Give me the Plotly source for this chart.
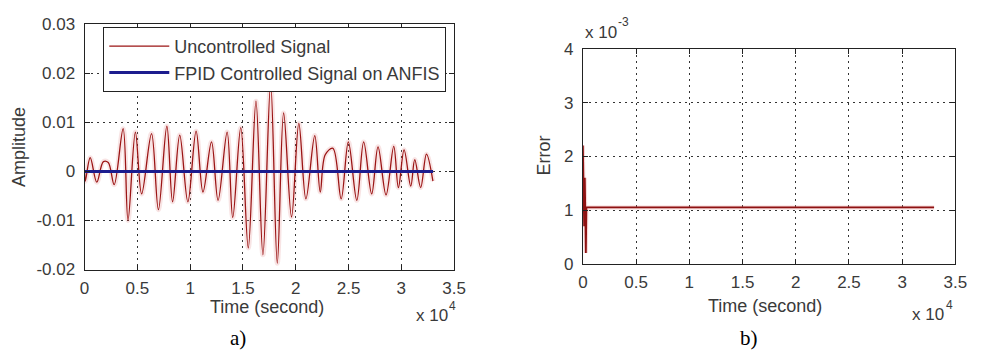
import plotly.graph_objects as go

# ---- data (time in seconds) ----
# extrema of the uncontrolled signal read off panel a)
unc_t = [0, 60, 530, 1150, 1780, 2240, 2800, 3650, 4110, 4810, 5400, 6340, 6990, 7790, 8330, 9010, 9780,
         10560, 11210, 12020, 12640, 13500, 14030, 14790, 15500, 16230, 16890, 17620, 18250, 18850,
         19600, 20290, 20960, 21800, 22320, 22790, 23520, 24300, 24980, 25780, 26430, 27190,
         27790, 28550, 29720, 29280, 30260, 30890, 31270, 31830, 32380, 32990]
unc_v = [0.0, -0.0020, 0.0028, -0.0022, 0.0020, 0.0018, -0.0027, 0.0087, -0.0100, 0.0080, -0.0046, 0.0077,
         -0.0078, 0.0092, -0.0062, 0.0074, -0.0062, 0.0082, -0.0042, 0.0060, -0.0059, 0.0080, -0.0094,
         0.0089, -0.0156, 0.0143, -0.0170, 0.0180, -0.0187, 0.0119, -0.0093, 0.0098, -0.0056,
         0.0073, -0.0042, 0.0034, 0.0047, -0.0056, 0.0060, -0.0059, 0.0060, -0.0046, 0.0050,
         -0.0048, -0.0033, 0.0051, 0.0044, -0.0030, 0.0024, -0.0033, 0.0035, -0.0020]
ctl_t = [0, 33000]
ctl_v = [0.0, 0.0]

err_t = [0, 60, 120, 180, 280, 330, 33000]
err_v = [0.0022, 0.0010, 0.0007, 0.0016, 0.0002, 0.00105, 0.00105]

x_vals = [0, 5000, 10000, 15000, 20000, 25000, 30000, 35000]
x_text = ["0", "0.5", "1", "1.5", "2", "2.5", "3", "3.5"]
ya_vals = [-0.02, -0.01, 0, 0.01, 0.02, 0.03]
ya_text = ["-0.02", "-0.01", "0", "0.01", "0.02", "0.03"]
yb_vals = [0, 0.001, 0.002, 0.003, 0.004]
yb_text = ["0", "1", "2", "3", "4"]

# sort extrema by time
pairs = sorted(zip(unc_t, unc_v))
unc_t = [p[0] for p in pairs]
unc_v = [p[1] for p in pairs]

FONT = "Liberation Sans, Arial, sans-serif"
SERIF = "Liberation Serif, Times New Roman, serif"
TXT = "#3a3a3a"

fig = go.Figure()
# light halo under the signal (JPEG-like softness of the original)
fig.add_trace(go.Scatter(x=unc_t, y=unc_v, mode="lines", showlegend=False, hoverinfo="skip",
                         line=dict(color="rgba(225,130,130,0.22)", width=5, shape="spline", smoothing=1.0),
                         xaxis="x", yaxis="y"))
fig.add_trace(go.Scatter(x=unc_t, y=unc_v, mode="lines", name="Uncontrolled Signal",
                         line=dict(color="#9b1515", width=1.3, shape="spline", smoothing=1.0),
                         xaxis="x", yaxis="y", legendgroup="a"))
fig.add_trace(go.Scatter(x=ctl_t, y=ctl_v, mode="lines", name="FPID Controlled Signal on ANFIS",
                         line=dict(color="#1c1c8e", width=3),
                         xaxis="x", yaxis="y", legendgroup="b"))
fig.add_trace(go.Scatter(x=err_t, y=err_v, mode="lines", showlegend=False,
                         line=dict(color="rgba(225,130,130,0.3)", width=4),
                         xaxis="x2", yaxis="y2"))
fig.add_trace(go.Scatter(x=err_t, y=err_v, mode="lines", showlegend=False,
                         line=dict(color="#8e1212", width=1.8),
                         xaxis="x2", yaxis="y2"))

axis_common = dict(showline=True, linecolor="#222222", linewidth=1, mirror="ticks",
                   ticks="inside", ticklen=5, tickcolor="#222222",
                   showgrid=True, gridcolor="#333333", griddash="2px,4px", gridwidth=1,
                   zeroline=False, tickfont=dict(family=FONT, size=17, color=TXT))

W, H = 988, 361
fig.update_layout(
    width=W, height=H, margin=dict(l=0, r=0, t=0, b=0),
    paper_bgcolor="white", plot_bgcolor="white",
    font=dict(family=FONT, color=TXT),
    xaxis=dict(domain=[81 / W, 457 / W], range=[0, 35000], tickmode="array",
               tickvals=x_vals, ticktext=x_text, anchor="y", ticklabelstandoff=3, **axis_common),
    yaxis=dict(domain=[1 - 275 / H, 1 - 16 / H], range=[-0.02, 0.03], tickmode="array",
               tickvals=ya_vals, ticktext=ya_text, anchor="x", ticklabelstandoff=5, **axis_common),
    xaxis2=dict(domain=[588 / W, 967 / W], range=[0, 35000], tickmode="array",
                tickvals=x_vals, ticktext=x_text, anchor="y2", ticklabelstandoff=3, **axis_common),
    yaxis2=dict(domain=[1 - 269 / H, 1 - 42 / H], range=[0, 0.004], tickmode="array",
                tickvals=yb_vals, ticktext=yb_text, anchor="x2", ticklabelstandoff=5, **axis_common),
    legend=dict(x=100 / W, y=1 - 19 / H, xanchor="left", yanchor="top",
                bgcolor="white", bordercolor="#222222", borderwidth=1,
                font=dict(family=FONT, size=18, color=TXT),
                tracegroupgap=0, traceorder="grouped", itemwidth=60),
    showlegend=True,
)

def ann(text, x, y, size=18, family=FONT, color=TXT, angle=0, xanchor="center"):
    fig.add_annotation(text=text, x=x / W, y=1 - y / H, xref="paper", yref="paper",
                       showarrow=False, font=dict(family=family, size=size, color=color),
                       textangle=angle, xanchor=xanchor, yanchor="middle")

ann("Time (second)", 267, 315)
ann("Time (second)", 773, 313)
ann("Amplitude", 15, 146, angle=-90)
ann("Error", 548, 155, angle=-90)
ann("x 10", 416, 323, size=17, xanchor="left")
ann("4", 450, 313, size=12, xanchor="left")
ann("x 10", 921, 322, size=17, xanchor="left")
ann("4", 955, 312, size=12, xanchor="left")
ann("x 10", 588, 25, size=17, xanchor="left")
ann("-3", 622, 14, size=12, xanchor="left")
ann("a)", 237, 347, size=21, family=SERIF, color="black")
ann("b)", 757, 347, size=21, family=SERIF, color="black")

fig.write_html("out.html")
